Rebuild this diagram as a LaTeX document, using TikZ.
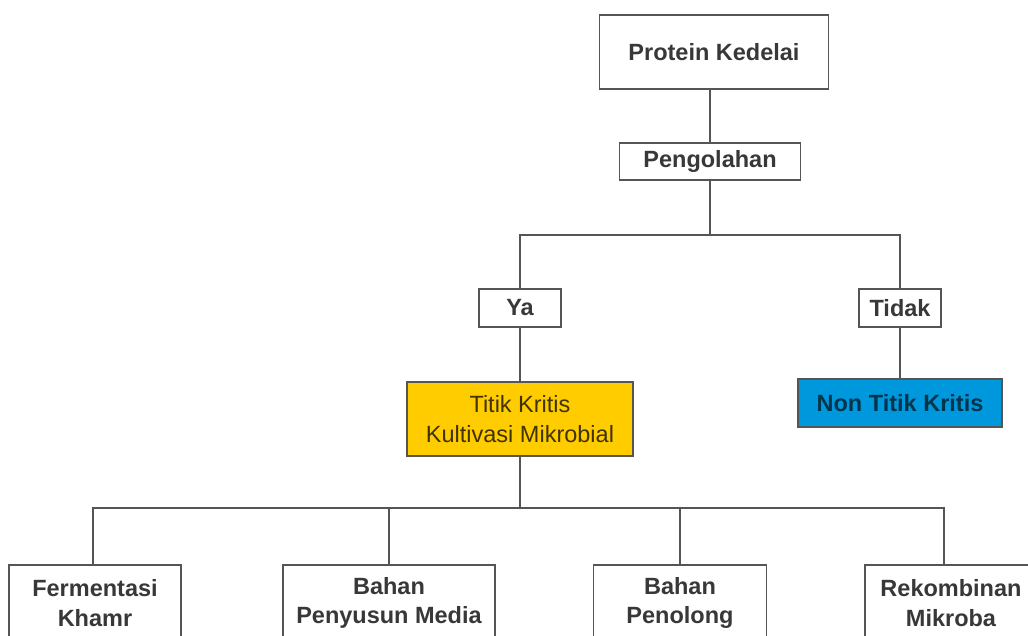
\documentclass[tikz,border=0pt]{standalone}
\usepackage{fontspec}
\setmainfont{Liberation Sans}
\definecolor{linegray}{HTML}{555555}
\definecolor{textgray}{HTML}{383838}
\definecolor{kritisyellow}{HTML}{FFCC00}
\definecolor{nonblue}{HTML}{0098DC}
\tikzset{box_style/.style={draw=linegray, line width=1.6pt, fill=white, text=textgray, align=center, inner sep=0pt,
    font=\fontsize{23.5}{29.5}\selectfont\bfseries}}
\tikzset{link_style/.style={draw=linegray, line width=1.6pt}}

\begin{document}
\begin{tikzpicture}[x=1pt, y=-1pt]
    \useasboundingbox (0,0) rectangle (1028,635);
    \clip (0,0) rectangle (1028,635);

    \node[box_style, minimum width=229pt, minimum height=74pt] (protein) at (714,52) {Protein Kedelai};
    \node[box_style, minimum width=181pt, minimum height=37pt] (olah) at (710,161.5) {Pengolahan};
    \node[box_style, minimum width=82pt, minimum height=38pt] (ya) at (520,308) {Ya};
    \node[box_style, minimum width=82pt, minimum height=38pt] (tidak) at (900,308) {Tidak};
    \node[box_style, fill=kritisyellow, text=black!75!kritisyellow, font=\fontsize{23.5}{29.5}\selectfont,
        minimum width=226pt, minimum height=74pt] (kritis) at (520,419) {Titik Kritis\\Kultivasi Mikrobial};
    \node[box_style, fill=nonblue, text=black!65!nonblue, minimum width=204pt, minimum height=48pt] (nonkritis) at (900,403) {Non Titik Kritis};
    \node[box_style, minimum width=172pt, minimum height=76pt] (khamr) at (95,603) {Fermentasi\\Khamr};
    \node[box_style, minimum width=212pt, minimum height=76pt] (media) at (389,603) {Bahan\\Penyusun Media};
    \node[box_style, minimum width=173pt, minimum height=76pt] (penolong) at (680,603) {Bahan\\Penolong};
    \node[box_style, minimum width=172pt, minimum height=76pt] (mikroba) at (951,603) {Rekombinan\\Mikroba};

    \coordinate (fork1) at (710,235);
    \coordinate (fork2) at (520,508);

    \draw[link_style] (protein.south -| olah.north) -- (olah.north);
    \draw[link_style] (olah.south) -- (fork1);
    \draw[link_style] (ya.north) |- (fork1) -| (tidak.north);
    \draw[link_style] (ya.south) -- (kritis.north);
    \draw[link_style] (tidak.south) -- (nonkritis.north);
    \draw[link_style] (kritis.south) -- (fork2);
    \draw[link_style] ([xshift=-2pt]khamr.north) |- (fork2) -| ([xshift=-7pt]mikroba.north);
    \draw[link_style] (media.north) -- (media.north |- fork2);
    \draw[link_style] (penolong.north) -- (penolong.north |- fork2);

\end{tikzpicture}
\end{document}
